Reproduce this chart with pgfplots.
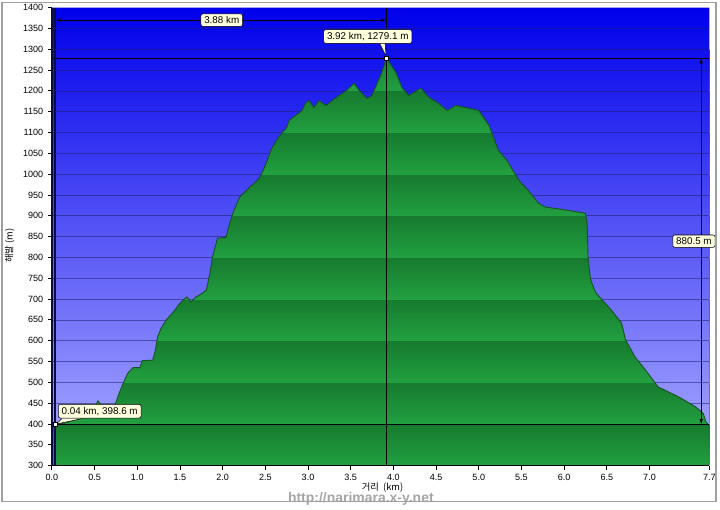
\documentclass[border=0pt]{standalone}
\usepackage{fontspec}
\setmainfont{Liberation Sans}
\newfontfamily\kr{Noto Sans CJK KR}
\usepackage{pgfplots}
\usepackage{pgfplotstable}
\pgfplotsset{compat=1.18}
\usetikzlibrary{arrows.meta}

\definecolor{bluetop}{RGB}{0,0,236}
\definecolor{bluebot}{RGB}{158,158,255}
\definecolor{gdark}{RGB}{22,122,46}
\definecolor{gmid}{RGB}{34,160,64}
\definecolor{glight}{RGB}{56,192,90}
\definecolor{outl}{RGB}{22,85,34}
\definecolor{lblfill}{RGB}{255,255,222}
\definecolor{navy}{RGB}{10,10,70}
\definecolor{gridc}{RGB}{30,30,110}

\pgfplotstableread{
x y
0.00 398
0.04 398.6
0.15 402
0.30 412
0.45 428
0.50 440
0.54 455
0.58 445
0.62 440
0.70 442
0.74 446
0.79 475
0.84 500
0.89 522
0.95 535
1.03 535
1.06 552
1.18 553
1.21 575
1.24 610
1.28 630
1.34 650
1.42 668
1.50 690
1.58 705
1.63 693
1.69 705
1.77 715
1.81 722
1.85 760
1.88 800
1.94 846
2.04 848
2.08 880
2.12 906
2.20 945
2.30 965
2.43 990
2.49 1016
2.58 1064
2.66 1090
2.75 1112
2.78 1129
2.85 1140
2.93 1153
2.97 1170
3.01 1177
3.07 1160
3.13 1177
3.21 1165
3.33 1184
3.45 1201
3.54 1218
3.60 1201
3.69 1182
3.75 1189
3.86 1242
3.92 1279.1
4.03 1244
4.10 1208
4.18 1189
4.32 1206
4.42 1184
4.53 1170
4.63 1153
4.73 1165
4.85 1160
5.00 1153
5.12 1117
5.23 1057
5.33 1033
5.47 985
5.58 961
5.70 930
5.78 921
6.05 913
6.25 906
6.27 880
6.28 800
6.31 746
6.37 715
6.55 674
6.67 643
6.72 602
6.83 561
6.95 530
7.10 489
7.34 465
7.54 441
7.63 425
7.66 405
7.70 396
}\prof

\newcommand\gline[1]{%
  \pgfpathmoveto{\pgfplotspointaxisxy{0}{#1}}%
  \pgfpathlineto{\pgfplotspointaxisxy{7.7}{#1}}}

\tikzset{
  band/.style={top color=gdark, middle color=glight, bottom color=gmid},
  lbl/.style={fill=lblfill, draw=black, line width=0.4pt, rounded corners=1.5pt,
    inner xsep=2.5pt, inner ysep=2pt, font=\fontsize{7.4}{8.5}\selectfont},
  dim/.style={{Latex[length=4pt,width=2.6pt]}-{Latex[length=4pt,width=2.6pt]}, line width=0.6pt, black},
}

\begin{document}
\begin{tikzpicture}
\fill[white] (-39pt,-30pt) rectangle (501pt,349.5pt);
\begin{axis}[
  at={(0,0)}, anchor=south west,
  width=494.25pt, height=344.25pt, scale only axis,
  clip=false,
  xmin=0, xmax=7.7, ymin=300, ymax=1400,
  axis lines*=left,
  axis line style={black, line width=1pt},
  xtick={0,0.5,1,1.5,2,2.5,3,3.5,4,4.5,5,5.5,6,6.5,7,7.7},
  xticklabels={0.0,0.5,1.0,1.5,2.0,2.5,3.0,3.5,4.0,4.5,5.0,5.5,6.0,6.5,7.0,7.7},
  ytick={300,350,...,1400},
  yticklabel style={/pgf/number format/set thousands separator={}},
  /pgf/number format/assume math mode=true,
  tick align=outside,
  major tick length=3pt,
  tick style={black, line width=0.6pt},
  tick label style={font=\fontsize{6.8}{8}\selectfont},
  xlabel={\kr 거리~~(km)},
  xlabel style={at={(axis description cs:0.503,-0.049)}, anchor=center, font=\fontsize{7}{8}\selectfont},
  ylabel={\kr 해발 (m)},
  ylabel style={at={(axis description cs:-0.064,0.48)}, anchor=center, font=\fontsize{7}{8}\selectfont},
]
% green striped background (terrain)
\fill[band] (axis cs:0,300) rectangle (axis cs:7.7,400);
\fill[band] (axis cs:0,400) rectangle (axis cs:7.7,500);
\fill[band] (axis cs:0,500) rectangle (axis cs:7.7,600);
\fill[band] (axis cs:0,600) rectangle (axis cs:7.7,700);
\fill[band] (axis cs:0,700) rectangle (axis cs:7.7,800);
\fill[band] (axis cs:0,800) rectangle (axis cs:7.7,900);
\fill[band] (axis cs:0,900) rectangle (axis cs:7.7,1000);
\fill[band] (axis cs:0,1000) rectangle (axis cs:7.7,1100);
\fill[band] (axis cs:0,1100) rectangle (axis cs:7.7,1200);
\fill[band] (axis cs:0,1200) rectangle (axis cs:7.7,1300);
% sky above the profile, with its grid lines
\addplot[draw=none, top color=bluetop, bottom color=bluebot, path picture={
  \pgfsetlinewidth{0.45pt}%
  \pgfsetstrokecolor{gridc}%
  \pgfsetstrokeopacity{0.55}%
  \gline{350}\gline{400}\gline{450}\gline{500}\gline{550}\gline{600}%
  \gline{650}\gline{700}\gline{750}\gline{800}\gline{850}\gline{900}%
  \gline{950}\gline{1000}\gline{1050}\gline{1100}\gline{1150}\gline{1200}%
  \gline{1250}\gline{1300}\gline{1350}%
  \pgfusepath{stroke}%
}] table {\prof} -- (axis cs:7.7,1400) -- (axis cs:0,1400) -- cycle;
% profile outline
\addplot[draw=outl, line width=0.7pt] table {\prof};
% reference lines
\draw[black, line width=0.6pt] (axis cs:0,1279.1) -- (axis cs:7.7,1279.1);
\draw[black, line width=0.8pt] (axis cs:0,398.6) -- (axis cs:7.7,398.6);
\draw[black, line width=0.6pt] (axis cs:3.92,300) -- (axis cs:3.92,1279.1);
\draw[black, line width=0.6pt] (axis cs:3.92,1352) -- (axis cs:3.92,1400);
\draw[navy, line width=1pt] (axis cs:0.035,300) -- (axis cs:0.035,1400);
% dimension arrows
\draw[dim] (axis cs:0.04,1370) -- (axis cs:3.92,1370);
\node[lbl] at (axis cs:1.99,1370) {3.88 km};
\draw[dim] (axis cs:7.605,1279.1) -- (axis cs:7.605,398.6);
\node[lbl] at (axis cs:7.52,839) {880.5 m};
% callouts
\filldraw[fill=lblfill, draw=black, line width=0.4pt] (axis cs:3.82,1322) -- (axis cs:3.915,1283) -- (axis cs:3.90,1322);
\node[lbl] at (axis cs:3.70,1330.5) {3.92 km, 1279.1 m};
\filldraw[fill=lblfill, draw=black, line width=0.4pt] (axis cs:0.12,413) -- (axis cs:0.05,399.5) -- (axis cs:0.36,413);
\node[lbl] at (axis cs:0.56,430.6) {0.04 km, 398.6 m};
% markers
\addplot[only marks, mark=square*, mark size=1.5pt, mark options={fill=white, draw=black, line width=0.5pt}]
  coordinates {(3.92,1279.1) (0.04,398.6)};
% axis lines on top
\draw[navy, line width=1.3pt] (rel axis cs:0,1) -- (rel axis cs:0,0);
\draw[black, line width=1pt] (rel axis cs:0,0) -- (rel axis cs:1,0);
% watermark
\node[font=\bfseries\fontsize{10.5}{12}\selectfont, text=gray!70] at (axis description cs:0.47,-0.072) {http://narimara.x-y.net};
\end{axis}
\draw[gray!75, line width=1.2pt] (-37.5pt,-27pt) rectangle (499.5pt,348pt);
\end{tikzpicture}
\end{document}
